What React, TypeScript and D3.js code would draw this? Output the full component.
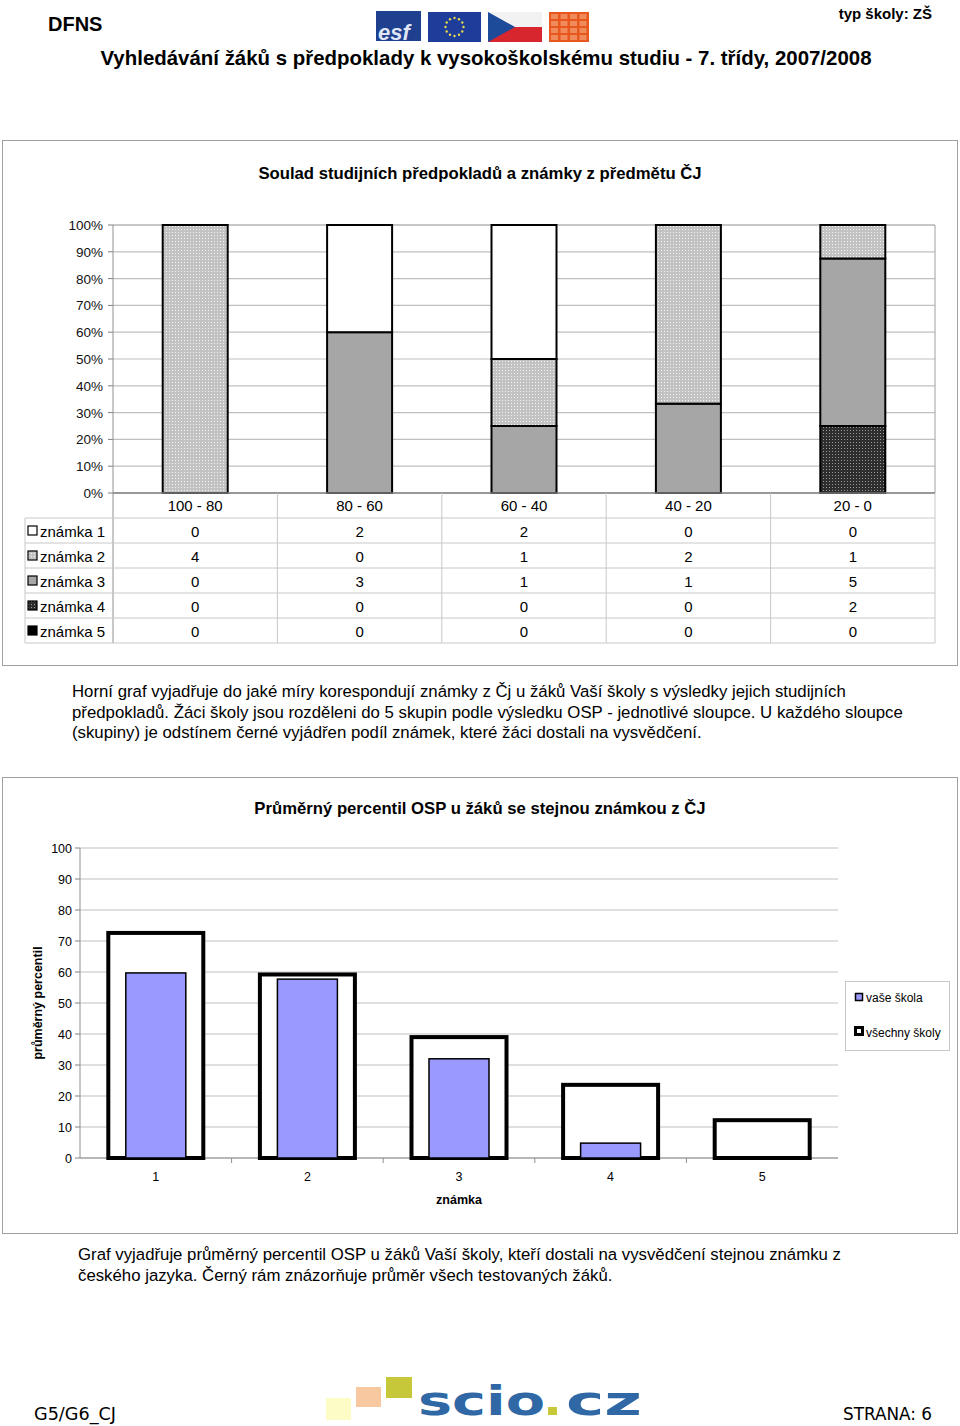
import React from "react";
import * as d3 from "d3";

const groups = ["100 - 80", "80 - 60", "60 - 40", "40 - 20", "20 - 0"];
const grades = ["známka 1", "známka 2", "známka 3", "známka 4", "známka 5"];
const counts1 = [0, 2, 2, 0, 0];
const counts2 = [4, 0, 1, 2, 1];
const counts3 = [0, 3, 1, 1, 5];
const counts4 = [0, 0, 0, 0, 2];
const counts5 = [0, 0, 0, 0, 0];
const pctTicks = [0, 10, 20, 30, 40, 50, 60, 70, 80, 90, 100];

const gradeCats = ["1", "2", "3", "4", "5"];
const yourSchool = [59.7, 57.7, 32, 4.8, 0];
const allSchools = [72.6, 59.2, 39, 23.6, 12.2];
const percTicks = [0, 10, 20, 30, 40, 50, 60, 70, 80, 90, 100];

const FONT = "'Liberation Sans', Arial, sans-serif";
const seriesFill = ["#ffffff", "url(#pLight)", "#a6a6a6", "url(#pDark)", "#000000"];
const legendFill = ["#ffffff", "url(#pLight)", "#a6a6a6", "url(#pDark)", "#000000"];

export default function App() {
  const allCounts = [counts1, counts2, counts3, counts4, counts5];

  const x1 = d3.scaleBand().domain(groups).range([113, 935]).paddingInner(0).paddingOuter(0);
  const y1 = d3.scaleLinear().domain([0, 100]).range([493, 225]);
  const barW1 = 65;

  const table = groups.map((g, i) => {
    const row: any = { g };
    grades.forEach((k, j) => (row[k] = allCounts[j][i]));
    return row;
  });
  const stackOrder = [...grades].reverse();
  const stacked = d3.stack().keys(stackOrder).offset(d3.stackOffsetExpand)(table);

  const x2 = d3.scaleBand().domain(gradeCats).range([80, 838]);
  const y2 = d3.scaleLinear().domain([0, 100]).range([1158, 848]);
  const frameW = 95;
  const blueW = 60;

  const rowY = (j: number) => 518 + j * 25;

  return (
    <svg width={960} height={1426} style={{ position: "absolute", left: 0, top: 0, background: "#fff" }} fontFamily={FONT}>
      <defs>
        <pattern id="pLight" width="3" height="3" patternUnits="userSpaceOnUse">
          <rect width="3" height="3" fill="#c2c2c2" />
          <rect x="1" y="1" width="1" height="1" fill="#f4f4f4" />
        </pattern>
        <pattern id="pDark" width="3" height="3" patternUnits="userSpaceOnUse">
          <rect width="3" height="3" fill="#2e2e2e" />
          <rect x="1" y="1" width="1" height="1" fill="#9a9a9a" />
        </pattern>
      </defs>
      <rect width={960} height={1426} fill="#fff" />

      {/* header */}
      <text x={48} y={31} fontSize={20} fontWeight="bold">DFNS</text>
      <text x={932} y={19} fontSize={15} fontWeight="bold" textAnchor="end">typ školy: ZŠ</text>
      <g>
        <rect x={376} y={11} width={45} height={30} fill="#1f3f8f" />
        <text x={378} y={40} fontSize={22} fontWeight="bold" fill="#dfe6f5" fontStyle="italic">esf</text>
        <rect x={428} y={12} width={53} height={30} fill="#1e3d9a" />
        {d3.range(12).map((k) => {
          const a = (k / 12) * Math.PI * 2;
          return <circle key={k} cx={454.5 + 9 * Math.cos(a)} cy={27 + 9 * Math.sin(a)} r={1.2} fill="#e8d84a" />;
        })}
        <rect x={488} y={12} width={54} height={15} fill="#f2f2f2" />
        <rect x={488} y={27} width={54} height={15} fill="#d8262f" />
        <path d="M488,12 L515,27 L488,42 Z" fill="#1e4a9a" />
        <rect x={549} y={12} width={40} height={30} fill="#e8571e" />
        {d3.range(4).map((r) =>
          d3.range(4).map((c) => (
            <rect key={`${r}-${c}`} x={551 + c * 9.5} y={14 + r * 7} width={7} height={5} fill="#f08a5a" />
          ))
        )}
      </g>
      <text x={486} y={65} fontSize={21} fontWeight="bold" textAnchor="middle" textLength={771} lengthAdjust="spacingAndGlyphs">
        Vyhledávání žáků s předpoklady k vysokoškolskému studiu - 7. třídy, 2007/2008
      </text>

      {/* chart 1 box */}
      <rect x={2.5} y={140.5} width={955} height={525} fill="#fff" stroke="#a0a0a0" strokeWidth={1} />
      <text x={480} y={179} fontSize={16.7} fontWeight="bold" textAnchor="middle">
        Soulad studijních předpokladů a známky z předmětu ČJ
      </text>
      {pctTicks.map((t) => (
        <g key={t}>
          <line x1={113} x2={935} y1={y1(t)} y2={y1(t)} stroke={t === 100 ? "#909090" : "#c0c0c0"} strokeWidth={1.2} />
          <line x1={108} x2={113} y1={y1(t)} y2={y1(t)} stroke="#808080" />
          <text x={103} y={y1(t) + 5} fontSize={13.5} textAnchor="end" fill="#111">{t}%</text>
        </g>
      ))}
      <line x1={935} x2={935} y1={225} y2={493} stroke="#a0a0a0" />
      {stacked.map((s) => {
        const j = grades.indexOf(s.key as string);
        return s.map((d, i) => {
          if (d[1] - d[0] <= 0) return null;
          const cx = (x1(groups[i]) as number) + x1.bandwidth() / 2;
          return (
            <rect
              key={`${s.key}-${i}`}
              x={cx - barW1 / 2}
              y={y1(d[1] * 100)}
              width={barW1}
              height={y1(d[0] * 100) - y1(d[1] * 100)}
              fill={seriesFill[j]}
              stroke="#000"
              strokeWidth={2}
            />
          );
        });
      })}
      <line x1={113} x2={113} y1={225} y2={643} stroke="#909090" />
      <line x1={113} x2={935} y1={493} y2={493} stroke="#808080" strokeWidth={1.5} />
      {groups.map((g, i) => (
        <g key={g}>
          <line x1={(x1(g) as number) + x1.bandwidth()} x2={(x1(g) as number) + x1.bandwidth()} y1={493} y2={643} stroke="#c8c8c8" />
          <text x={(x1(g) as number) + x1.bandwidth() / 2} y={511} fontSize={15} textAnchor="middle">{g}</text>
        </g>
      ))}
      <line x1={25} x2={25} y1={518} y2={643} stroke="#c8c8c8" />
      {d3.range(6).map((j) => (
        <line key={j} x1={25} x2={935} y1={rowY(j)} y2={rowY(j)} stroke="#c8c8c8" />
      ))}
      {grades.map((gr, j) => (
        <g key={gr}>
          <rect x={28} y={rowY(j) + 8} width={9} height={9} fill={legendFill[j]} stroke="#000" strokeWidth={1.2} />
          <text x={40} y={rowY(j) + 19} fontSize={15}>{gr}</text>
          {groups.map((g, i) => (
            <text key={g} x={(x1(g) as number) + x1.bandwidth() / 2} y={rowY(j) + 19} fontSize={15} textAnchor="middle">
              {allCounts[j][i]}
            </text>
          ))}
        </g>
      ))}

      <g fontSize={16.8}>
        <text x={72} y={697}>Horní graf vyjadřuje do jaké míry korespondují známky z Čj u žáků Vaší školy s výsledky jejich studijních</text>
        <text x={72} y={718}>předpokladů. Žáci školy jsou rozděleni do 5 skupin podle výsledku OSP - jednotlivé sloupce. U každého sloupce</text>
        <text x={72} y={738}>(skupiny) je odstínem černé vyjádřen podíl známek, které žáci dostali na vysvědčení.</text>
      </g>

      {/* chart 2 box */}
      <rect x={2.5} y={777.5} width={955} height={456} fill="#fff" stroke="#a0a0a0" strokeWidth={1} />
      <text x={480} y={814} fontSize={16.7} fontWeight="bold" textAnchor="middle">
        Průměrný percentil OSP u žáků se stejnou známkou z ČJ
      </text>
      {percTicks.map((t) => (
        <g key={t}>
          <line x1={80} x2={838} y1={y2(t)} y2={y2(t)} stroke="#c0c0c0" strokeWidth={1.2} />
          <line x1={75} x2={80} y1={y2(t)} y2={y2(t)} stroke="#808080" />
          <text x={72} y={y2(t) + 4.5} fontSize={12.5} textAnchor="end">{t}</text>
        </g>
      ))}
      <line x1={80} x2={80} y1={848} y2={1158} stroke="#909090" />
      <line x1={80} x2={838} y1={1158} y2={1158} stroke="#909090" />
      {gradeCats.map((c, i) => (
        <g key={c}>
          {i > 0 && <line x1={x2(c) as number} x2={x2(c) as number} y1={1158} y2={1163} stroke="#909090" />}
          <text x={(x2(c) as number) + x2.bandwidth() / 2} y={1181} fontSize={12.5} textAnchor="middle">{c}</text>
        </g>
      ))}
      {gradeCats.map((c, i) => {
        const cx = (x2(c) as number) + x2.bandwidth() / 2;
        return (
          <g key={c}>
            <rect x={cx - frameW / 2} y={y2(allSchools[i])} width={frameW} height={y2(0) - y2(allSchools[i])} fill="#fff" stroke="#000" strokeWidth={4} />
            {yourSchool[i] > 0 && (
              <rect x={cx - blueW / 2} y={y2(yourSchool[i])} width={blueW} height={y2(0) - y2(yourSchool[i])} fill="#9999ff" stroke="#000" strokeWidth={1.5} />
            )}
          </g>
        );
      })}
      <text x={459} y={1204} fontSize={12.5} fontWeight="bold" textAnchor="middle">známka</text>
      <text transform="translate(42,1003) rotate(-90)" fontSize={12.5} fontWeight="bold" textAnchor="middle">průměrný percentil</text>
      <rect x={845.5} y={981.5} width={104} height={69} fill="#fff" stroke="#c8c8c8" />
      <rect x={855.5} y={993.5} width={7} height={7} fill="#9999ff" stroke="#000" strokeWidth={1.5} />
      <text x={866} y={1002} fontSize={12}>vaše škola</text>
      <rect x={855.5} y={1027.5} width={7} height={7} fill="#fff" stroke="#000" strokeWidth={3} />
      <text x={866} y={1037} fontSize={12}>všechny školy</text>

      <g fontSize={16.8}>
        <text x={78} y={1260}>Graf vyjadřuje průměrný percentil OSP u žáků Vaší školy, kteří dostali na vysvědčení stejnou známku z</text>
        <text x={78} y={1281}>českého jazyka. Černý rám znázorňuje průměr všech testovaných žáků.</text>
      </g>

      {/* footer */}
      <text x={34} y={1420} fontSize={18} fontFamily="'DejaVu Sans Condensed', 'DejaVu Sans', sans-serif" textLength={82} lengthAdjust="spacingAndGlyphs">G5/G6_CJ</text>
      <text x={932} y={1420} fontSize={18} textAnchor="end" fontFamily="'DejaVu Sans Condensed', 'DejaVu Sans', sans-serif" textLength={89} lengthAdjust="spacingAndGlyphs">STRANA: 6</text>
      <rect x={326} y={1398} width={25} height={22} fill="#fdfbc6" />
      <rect x={356} y={1387} width={25} height={20} fill="#f8c9a0" />
      <rect x={386} y={1377} width={26} height={21} fill="#c6c83a" />
      <text x={418} y={1415} fontSize={40} fontWeight="bold" fill="#2f68a4" fontFamily="'DejaVu Sans', sans-serif" textLength={127} lengthAdjust="spacingAndGlyphs">scio</text>
      <rect x={548} y={1407} width={9} height={8} fill="#c6c83a" />
      <text x={566} y={1415} fontSize={40} fontWeight="bold" fill="#2f68a4" fontFamily="'DejaVu Sans', sans-serif" textLength={76} lengthAdjust="spacingAndGlyphs">cz</text>
    </svg>
  );
}
